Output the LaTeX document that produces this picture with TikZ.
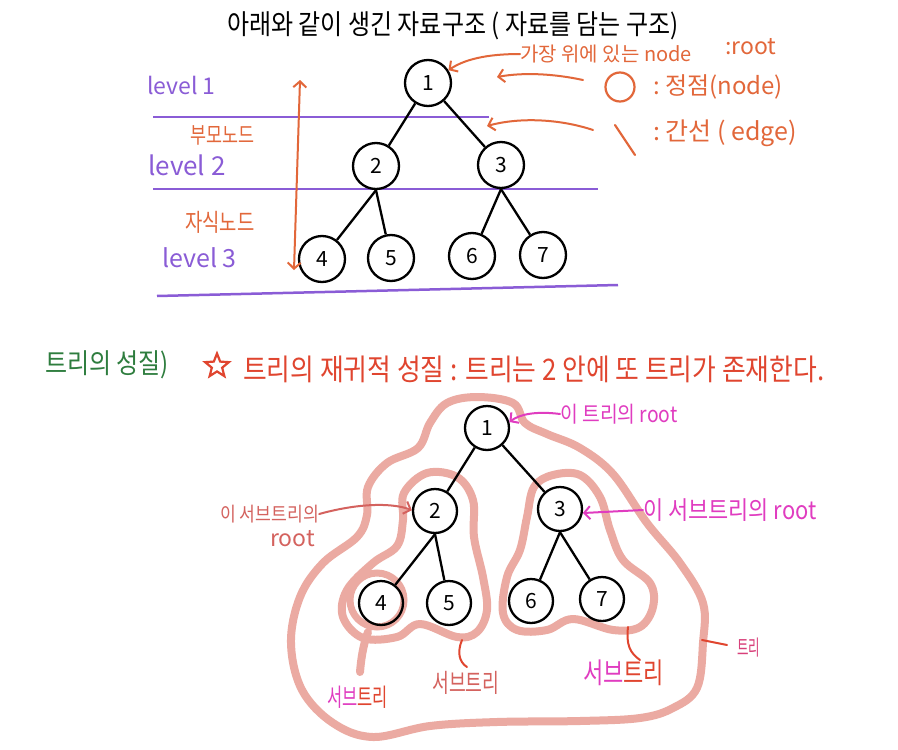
\documentclass[tikz,border=0pt]{standalone}
\usepackage{fontspec}
\setmainfont{Noto Sans CJK KR}
\usetikzlibrary{arrows.meta,shapes.geometric}
\definecolor{ora}{HTML}{E2673A}
\definecolor{purp}{HTML}{8A5CD6}
\definecolor{grn}{HTML}{2E7D3E}
\definecolor{redt}{HTML}{E0452F}
\definecolor{pinkb}{HTML}{EBAAA2}
\definecolor{mag}{HTML}{E03CC0}
\definecolor{rosy}{HTML}{D4625E}
\definecolor{tri}{HTML}{D8407A}
\newcommand\fs[1]{\fontsize{#1}{#1}\selectfont}
\newcommand\tall[1]{\scalebox{1}[1.15]{#1}}
\begin{document}
\begin{tikzpicture}[x=1pt,y=-1pt,
  tnode/.style={circle,draw,line width=2.3pt,minimum size=46pt,inner sep=0pt,font=\fs{21}},
  bnode/.style={tnode,minimum size=44pt},
  treeedge/.style={line width=2.3pt},
  lbl/.style={inner sep=0pt,anchor=west},
  blob/.style={draw=pinkb,line width=8pt,line join=round,line cap=round},
  arr/.style={line width=2pt,line cap=round,-{Straight Barb[length=6pt,width=13pt]}},
  tick/.style={line width=2pt,line cap=round},
]
\fill[white] (0,0) rectangle (898,750);
\useasboundingbox (0,0) rectangle (898,750);

% ---------- top part ----------
\node[lbl,font=\fs{24}] (title) at (227,26) {\tall{아래와 같이 생긴 자료구조 ( 자료를 담는 구조)}};

% purple level lines
\draw[purp,line width=2.5pt] (153,117) -- (489,117);
\draw[purp,line width=2.5pt] (153,189) -- (598,189);
\draw[purp,line width=2.5pt] (157,296) -- (618,285);

\node[lbl,text=purp,font=\fs{23}] (lv1) at (147,85) {level 1};
\node[lbl,text=purp,font=\fs{26}] (lv2) at (148,165) {level 2};
\node[lbl,text=purp,font=\fs{25}] (lv3) at (162,258) {level 3};
\node[lbl,text=ora,font=\fs{17.4}] (parent) at (190,135) {\scalebox{1}[1.3]{부모노드}};
\node[lbl,text=ora,font=\fs{18.8}] (child) at (185,222) {\scalebox{1}[1.3]{자식노드}};

% tree
\node[tnode] (t1) at (428,83) {1};
\node[tnode] (t2) at (376,166) {2};
\node[tnode] (t3) at (501,165) {3};
\node[tnode] (t4) at (322,259) {4};
\node[tnode] (t5) at (391,258) {5};
\node[tnode] (t6) at (472,256) {6};
\node[tnode] (t7) at (543,255) {7};
\draw[treeedge] (t1) -- (t2);
\draw[treeedge] (t1) -- (t3);
\draw[treeedge] (t2.south) -- (t4);
\draw[treeedge] (t2.south) -- (t5);
\draw[treeedge] (t3.south) -- (t6);
\draw[treeedge] (t3.south) -- (t7);

% double arrow
\coordinate (da1) at (300,80);
\coordinate (da2) at (294,270);
\draw[ora,line width=2pt,{Straight Barb[length=6pt,width=13pt]}-{Straight Barb[length=6pt,width=13pt]}] (da1) -- (da2);

% legend
\node[lbl,text=ora,font=\fs{20}] (ttop) at (520,54) {가장 위에 있는 node};
\node[lbl,text=ora,font=\fs{23}] (troot) at (725,47) {:root};
\draw[arr,ora] (ttop.west) .. controls (495,54) and (468,57) .. (t1.32);

\node[circle,draw=ora,line width=2.2pt,minimum size=29pt,inner sep=0pt] (lcirc) at (620,87) {};
\node[lbl,text=ora,font=\fs{24}] (lnode) at (653,87) {:\ 정점(node)};
\coordinate (a2s) at (583,80);
\coordinate (a2e) at (497,77);
\draw[arr,ora] (a2s) .. controls (555,74) and (525,72) .. (a2e);

\coordinate (bs1) at (615,125);
\coordinate (bs2) at (635,155);
\draw[ora,line width=2.2pt,line cap=round] (bs1) -- (bs2);
\node[lbl,text=ora,font=\fs{25}] (ledge) at (653,133) {:\ 간선 ( edge)};
\coordinate (a3s) at (593,130);
\coordinate (a3e) at (487,126);
\draw[arr,ora] (a3s) .. controls (560,119) and (520,117) .. (a3e);

% ---------- bottom part ----------
\node[lbl,text=grn,font=\fs{24}] (prop) at (45,365) {\tall{트리의 성질)}};
\node[star,star points=5,star point ratio=2.3,draw=redt,line width=2.2pt,minimum size=25pt,inner sep=0pt] (star) at (217,366) {};
\node[lbl,text=redt,font=\fs{25.8}] (sent) at (243,369) {\tall{트리의 재귀적 성질 : 트리는 2 안에 또 트리가 존재한다.}};

% blobs
\draw[blob] plot[smooth cycle,tension=0.6] coordinates {
 (477,397) (513,403) (525,423) (547,434) (580,448) (613,474) (647,523) (680,563)
 (703,603) (703,643) (697,688) (673,708) (640,718) (580,721) (497,722) (430,726)
 (373,737) (333,723) (302,690) (291,643) (300,597) (323,563) (357,537) (367,515)
 (368,487) (387,463) (418,448) (430,423) (447,403)};
\draw[blob] plot[smooth cycle,tension=0.6] coordinates {
 (427,473) (457,477) (473,500) (474,537) (483,577) (487,610) (477,632) (457,637)
 (420,624) (397,637) (363,638) (343,617) (347,590) (373,563) (397,546) (403,520)
 (404,493)};
\draw[blob] plot[smooth cycle,tension=0.6] coordinates {
 (553,475) (580,475) (600,497) (610,530) (623,560) (650,583) (653,607) (640,627)
 (613,630) (573,619) (547,630) (517,630) (503,613) (507,577) (520,550) (527,517)
 (534,487)};
\draw[draw=pinkb,line width=7pt] (377,600) circle[radius=27];
\coordinate (tl1) at (368,632);
\coordinate (tl2) at (360,672);
\draw[blob] (tl1) .. controls (363,645) and (361,660) .. (tl2);

% tree
\node[bnode] (b1) at (487,428) {1};
\node[bnode] (b2) at (435,511) {2};
\node[bnode] (b3) at (560,509) {3};
\node[bnode] (b4) at (381,603) {4};
\node[bnode] (b5) at (449,603) {5};
\node[bnode] (b6) at (531,601) {6};
\node[bnode] (b7) at (602,599) {7};
\draw[treeedge] (b1) -- (b2);
\draw[treeedge] (b1) -- (b3);
\draw[treeedge] (b2.south) -- (b4);
\draw[treeedge] (b2.south) -- (b5);
\draw[treeedge] (b3.south) -- (b6);
\draw[treeedge] (b3.south) -- (b7);

% labels
\node[lbl,text=mag,font=\fs{19.3}] (lroot) at (560,414) {\tall{이 트리의 root}};
\draw[arr,mag] (lroot.west) .. controls (537,411) and (520,414) .. (b1.15);
\node[lbl,text=mag,font=\fs{21.9}] (sroot) at (643,510) {\tall{이 서브트리의 root}};
\draw[arr,mag] (sroot.west) -- (b3.-10);
\node[lbl,text=rosy,font=\fs{17.2}] (lsub) at (220,514) {\tall{이 서브트리의}};
\node[lbl,text=rosy,font=\fs{23}] (lsubr) at (270,539) {root};
\draw[arr,rosy] (lsub.east) .. controls (355,504) and (390,502) .. (b2.178);

\node[lbl,font=\fs{16.5}] (st1) at (327,697) {\scalebox{1}[1.5]{{\color{mag}서브}{\color{redt}트리}}};
\node[lbl,text=rosy,font=\fs{18.3}] (st2) at (432,683) {\scalebox{1}[1.4]{서브트리}};
\node[lbl,font=\fs{22}] (st3) at (583,673) {\scalebox{1}[1.3]{{\color{mag}서브}{\color{redt}트리}}};
\node[lbl,text=tri,font=\fs{12.5}] (tr) at (737,648) {\scalebox{1}[1.7]{트리}};

\coordinate (k1a) at (462,640);
\coordinate (k1b) at (467,667);
\draw[tick,redt] (k1a) .. controls (457,652) and (459,662) .. (k1b);
\coordinate (k2a) at (628,627);
\coordinate (k2b) at (640,660);
\draw[tick,redt] (k2a) .. controls (626,645) and (630,653) .. (k2b);
\coordinate (k3a) at (702,640);
\coordinate (k3b) at (727,645);
\draw[tick,redt] (k3a) -- (k3b);
\end{tikzpicture}
\end{document}
